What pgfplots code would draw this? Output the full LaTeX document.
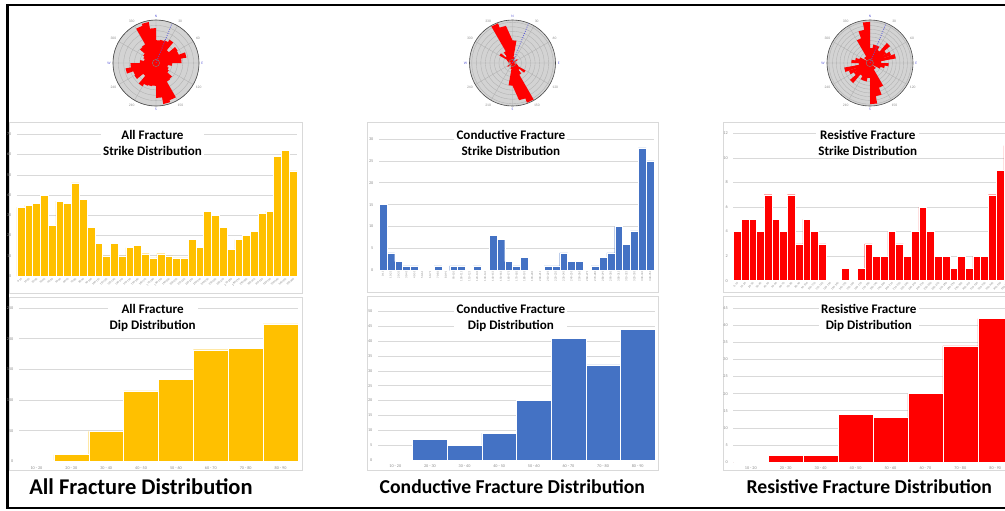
\documentclass[border=0pt]{standalone}
\usepackage{pgfplots}
\pgfplotsset{compat=1.18}
\usepackage{pgfplotstable}
\usepgfplotslibrary{polar}
\usepackage{fontspec}
\setmainfont{Carlito}
\definecolor{allc}{HTML}{FFC000}
\definecolor{conc}{HTML}{4472C4}
\definecolor{resc}{HTML}{FF0000}
\definecolor{gridc}{HTML}{D9D9D9}
\definecolor{tickc}{HTML}{8C8C8C}
\definecolor{diskc}{HTML}{D3D3D3}
\definecolor{ringc}{HTML}{B0B0B0}
\definecolor{cardc}{HTML}{5B5BD6}

% ---------- strike histograms (10 degree bins) ----------
\pgfplotstableread[row sep=\\]{v\\34\\35\\36\\40\\25\\37\\36\\46\\38\\24\\16\\10\\16\\10\\14\\15\\11\\9\\11\\10\\9\\9\\18\\14\\32\\30\\24\\13\\18\\20\\22\\31\\32\\59\\62\\52\\}\allstrike
\pgfplotstableread[row sep=\\]{v\\15\\4\\2\\1\\1\\0\\0\\1\\0\\1\\1\\0\\1\\0\\8\\7\\2\\1\\3\\0\\0\\1\\1\\4\\2\\2\\0\\1\\3\\4\\10\\6\\9\\28\\25\\}\constrike
\pgfplotstableread[row sep=\\]{v\\4\\5\\5\\4\\7\\5\\4\\7\\3\\5\\4\\3\\0\\0\\1\\0\\1\\3\\2\\2\\4\\3\\2\\4\\6\\4\\2\\2\\1\\2\\1\\2\\2\\7\\9\\11\\}\resstrike
% ---------- dip histograms ----------
\pgfplotstableread[row sep=\\]{v\\1\\11\\49\\115\\134\\182\\184\\224\\}\alldip
\pgfplotstableread[row sep=\\]{v\\0\\7\\5\\9\\20\\41\\32\\44\\}\condip
\pgfplotstableread[row sep=\\]{v\\0\\2\\2\\14\\13\\20\\34\\42\\}\resdip
% ---------- rose outlines (azimuth, count) ----------
\pgfplotstableread[row sep=\\]{az r\\0 34\\10 34\\10 35\\20 35\\20 36\\30 36\\30 40\\40 40\\40 25\\50 25\\50 37\\60 37\\60 36\\70 36\\70 46\\80 46\\80 38\\90 38\\90 24\\100 24\\100 16\\110 16\\110 10\\120 10\\120 16\\130 16\\130 10\\140 10\\140 14\\150 14\\150 15\\160 15\\160 11\\170 11\\170 9\\180 9\\180 11\\190 11\\190 10\\200 10\\200 9\\210 9\\210 9\\220 9\\220 18\\230 18\\230 14\\240 14\\240 32\\250 32\\250 30\\260 30\\260 24\\270 24\\270 13\\280 13\\280 18\\290 18\\290 20\\300 20\\300 22\\310 22\\310 31\\320 31\\320 32\\330 32\\330 59\\340 59\\340 62\\350 62\\350 52\\360 52\\}\allrose
\pgfplotstableread[row sep=\\]{az r\\0 15\\10 15\\10 4\\20 4\\20 2\\30 2\\30 1\\40 1\\40 1\\50 1\\50 0\\60 0\\60 0\\70 0\\70 1\\80 1\\80 0\\90 0\\90 1\\100 1\\100 1\\110 1\\110 0\\120 0\\120 1\\130 1\\130 0\\140 0\\140 8\\150 8\\150 7\\160 7\\160 2\\170 2\\170 1\\180 1\\180 3\\190 3\\190 0\\200 0\\200 0\\210 0\\210 1\\220 1\\220 1\\230 1\\230 4\\240 4\\240 2\\250 2\\250 2\\260 2\\260 0\\270 0\\270 1\\280 1\\280 3\\290 3\\290 4\\300 4\\300 10\\310 10\\310 6\\320 6\\320 9\\330 9\\330 28\\340 28\\340 25\\350 25\\}\conrose
\pgfplotstableread[row sep=\\]{az r\\0 4\\10 4\\10 5\\20 5\\20 5\\30 5\\30 4\\40 4\\40 7\\50 7\\50 5\\60 5\\60 4\\70 4\\70 7\\80 7\\80 3\\90 3\\90 5\\100 5\\100 4\\110 4\\110 3\\120 3\\120 0\\130 0\\130 0\\140 0\\140 1\\150 1\\150 0\\160 0\\160 1\\170 1\\170 3\\180 3\\180 2\\190 2\\190 2\\200 2\\200 4\\210 4\\210 3\\220 3\\220 2\\230 2\\230 4\\240 4\\240 6\\250 6\\250 4\\260 4\\260 2\\270 2\\270 2\\280 2\\280 1\\290 1\\290 2\\300 2\\300 1\\310 1\\310 2\\320 2\\320 2\\330 2\\330 7\\340 7\\340 9\\350 9\\350 11\\360 11\\}\resrose

\pgfplotsset{
  bars/.style={
    scale only axis, anchor=south west,
    axis line style={draw=none},
    major tick length=0pt,
    ymajorgrids, grid style={gridc, line width=0.4pt},
    enlargelimits=false, ymin=0,
    xtick=data,
    tick label style={font=\fontsize{3}{3.5}\selectfont, text=tickc},
    /pgf/number format/assume math mode=true,
    yticklabel style={xshift=-0.5pt},
    clip=false,
  },
  strikelab/.style={
    xticklabel={\pgfmathtruncatemacro\lo{10*\tick}\pgfmathtruncatemacro\hi{10*\tick+10}\lo-\hi},
    xticklabel style={font=\fontsize{2.1}{2.4}\selectfont},
  },
  diplab/.style={xticklabels={10 - 20,20 - 30,30 - 40,40 - 50,50 - 60,60 - 70,70 - 80,80 - 90}},
  rose/.style={
    scale only axis, width=2.15cm, height=2.15cm, anchor=center,
    ymin=0,
    xtick={0,30,...,330},
    xticklabels={{\color{cardc}E},60,30,{\color{cardc}N},330,300,{\color{cardc}W},240,210,{\color{cardc}S},150,120},
    yticklabels={},
    grid=major,
    grid style={ringc, line width=0.25pt},
    separate axis lines,
    x axis line style={gray!60!black, line width=0.45pt},
    y axis line style={draw=none},
    major tick length=0pt,
    xticklabel style={font=\fontsize{2.6}{3}\selectfont, text=tickc, inner sep=1.5pt},
    /pgf/number format/assume math mode=true,
  },
}
\newcommand\ttl{\fontsize{9.3}{11.4}\selectfont\bfseries}

\begin{document}
\begin{tikzpicture}
\useasboundingbox (0cm,0cm) rectangle (25.125cm,-12.75cm);
\clip (0cm,0cm) rectangle (25.125cm,-12.75cm);

\begin{scope}[x=0.025cm,y=-0.025cm]
  % outer frame
  \draw[black, line width=0.0625cm] (7.5,4) -- (7.5,509);
  \draw[black, line width=0.05cm] (6.25,5) -- (1012,5);
  \draw[black, line width=0.05cm] (6.25,508.5) -- (1012,508.5);
  % chart areas
  \foreach \a/\b/\c/\d in {9/122/302/293, 9/297/302/470, 367/122/659/292, 367/296/659/470, 724/122/1012/292, 724/296/1012/470}
    \draw[gridc, fill=white, line width=0.5pt] (\a,\b) rectangle (\c,\d);
  % rose disks
  \fill[diskc] (156,63) circle (1.075cm);
  \fill[diskc] (512.5,63) circle (1.075cm);
  \fill[diskc] (870,63) circle (1.075cm);
\end{scope}

% ---------------- roses ----------------
\begin{polaraxis}[rose, at={(3.9cm,-1.575cm)}, ymax=64, ytick={8,16,...,64}]
  \addplot[fill=resc, draw=none] table[x expr={mod(450-\thisrow{az},360)}, y=r]{\allrose};
  \addplot[fill=resc, draw=none] table[x expr={mod(630-\thisrow{az},360)}, y=r]{\allrose};
  \addplot[cardc, densely dotted, line width=0.6pt] coordinates {(68,0) (68,64)};
\end{polaraxis}
\begin{polaraxis}[rose, at={(12.8125cm,-1.575cm)}, ymax=28.5, ytick={3,6,...,27}]
  \addplot[fill=resc, draw=none] table[x expr={mod(450-\thisrow{az},360)}, y=r]{\conrose};
  \addplot[fill=resc, draw=none] table[x expr={mod(630-\thisrow{az},360)}, y=r]{\conrose};
  \addplot[cardc, densely dotted, line width=0.6pt] coordinates {(68,0) (68,28.5)};
\end{polaraxis}
\begin{polaraxis}[rose, at={(21.75cm,-1.575cm)}, ymax=11.5, ytick={1,2,...,11}]
  \addplot[fill=resc, draw=none] table[x expr={mod(450-\thisrow{az},360)}, y=r]{\resrose};
  \addplot[fill=resc, draw=none] table[x expr={mod(630-\thisrow{az},360)}, y=r]{\resrose};
  \addplot[cardc, densely dotted, line width=0.6pt] coordinates {(68,0) (68,11.5)};
\end{polaraxis}

% ---------------- strike histograms ----------------
\begin{axis}[bars, strikelab, at={(0.425cm,-6.9cm)}, width=7cm, height=3.5425cm,
  xmin=-0.5, xmax=35.5, ymax=70, ytick={0,10,...,70},
  xticklabel style={rotate=45, anchor=north east, inner sep=0.6pt}]
  \addplot[ybar, bar width=1, fill=allc, draw=white, line width=0.3pt] table[x expr=\coordindex, y=v]{\allstrike};
\end{axis}
\begin{axis}[bars, strikelab, at={(9.475cm,-6.7575cm)}, width=6.875cm, height=3.2825cm,
  xmin=-0.5, xmax=34.5, ymax=30, ytick={0,5,...,30},
  xticklabel style={rotate=90, anchor=east, inner sep=0.6pt}]
  \addplot[ybar, bar width=1, fill=conc, draw=white, line width=0.3pt] table[x expr=\coordindex, y=v]{\constrike};
\end{axis}
\begin{axis}[bars, strikelab, at={(18.3325cm,-7.0175cm)}, width=6.9575cm, height=3.685cm,
  xmin=-0.5, xmax=35.5, ymax=12, ytick={0,2,...,12},
  xticklabel style={rotate=45, anchor=north east, inner sep=0.6pt}]
  \addplot[ybar, bar width=1, fill=resc, draw=white, line width=0.3pt] table[x expr=\coordindex, y=v]{\resstrike};
\end{axis}

% ---------------- dip histograms ----------------
\begin{axis}[bars, diplab, at={(0.475cm,-11.5325cm)}, width=6.975cm, height=3.8325cm,
  xmin=-0.5, xmax=7.5, ymax=250, ytick={0,50,...,250}]
  \addplot[ybar, bar width=1, fill=allc, draw=white, line width=0.3pt] table[x expr=\coordindex, y=v]{\alldip};
\end{axis}
\begin{axis}[bars, diplab, at={(9.45cm,-11.5cm)}, width=6.925cm, height=3.7175cm,
  xmin=-0.5, xmax=7.5, ymax=50, ytick={0,5,...,50}]
  \addplot[ybar, bar width=1, fill=conc, draw=white, line width=0.3pt] table[x expr=\coordindex, y=v]{\condip};
\end{axis}
\begin{axis}[bars, diplab, at={(18.3325cm,-11.55cm)}, width=6.985cm, height=3.8425cm,
  xmin=-0.5, xmax=7.5, ymax=45, ytick={0,5,...,45}]
  \addplot[ybar, bar width=1, fill=resc, draw=white, line width=0.3pt] table[x expr=\coordindex, y=v]{\resdip};
\end{axis}

\begin{scope}[x=0.025cm,y=-0.025cm]
  % rose centres
  \draw[gray, line width=0.3pt] (156,63) circle (0.09cm);
  \draw[gray, line width=0.3pt] (512.5,63) circle (0.09cm);
  \draw[gray, line width=0.3pt] (870,63) circle (0.09cm);
  % chart titles
  \tikzset{tt/.style={fill=white, inner xsep=1.5pt, inner ysep=1.5pt, align=center, font=\ttl}}
  \node[tt] at (152.5,143) {All Fracture\\Strike Distribution};
  \node[tt] at (511,143) {Conductive Fracture\\Strike Distribution};
  \node[tt] at (868,143) {Resistive Fracture\\Strike Distribution};
  \node[tt] at (152.7,318) {All Fracture\\Dip Distribution};
  \node[tt] at (511,318) {Conductive Fracture\\Dip Distribution};
  \node[tt] at (869,318) {Resistive Fracture\\Dip Distribution};
  % panel titles
  \node[font=\fontsize{16}{19}\selectfont\bfseries] at (141,487) {All Fracture Distribution};
  \node[font=\fontsize{14}{17}\selectfont\bfseries] at (512.5,487) {Conductive Fracture Distribution};
  \node[font=\fontsize{14}{17}\selectfont\bfseries] at (869.5,487) {Resistive Fracture Distribution};
\end{scope}
\end{tikzpicture}
\end{document}
